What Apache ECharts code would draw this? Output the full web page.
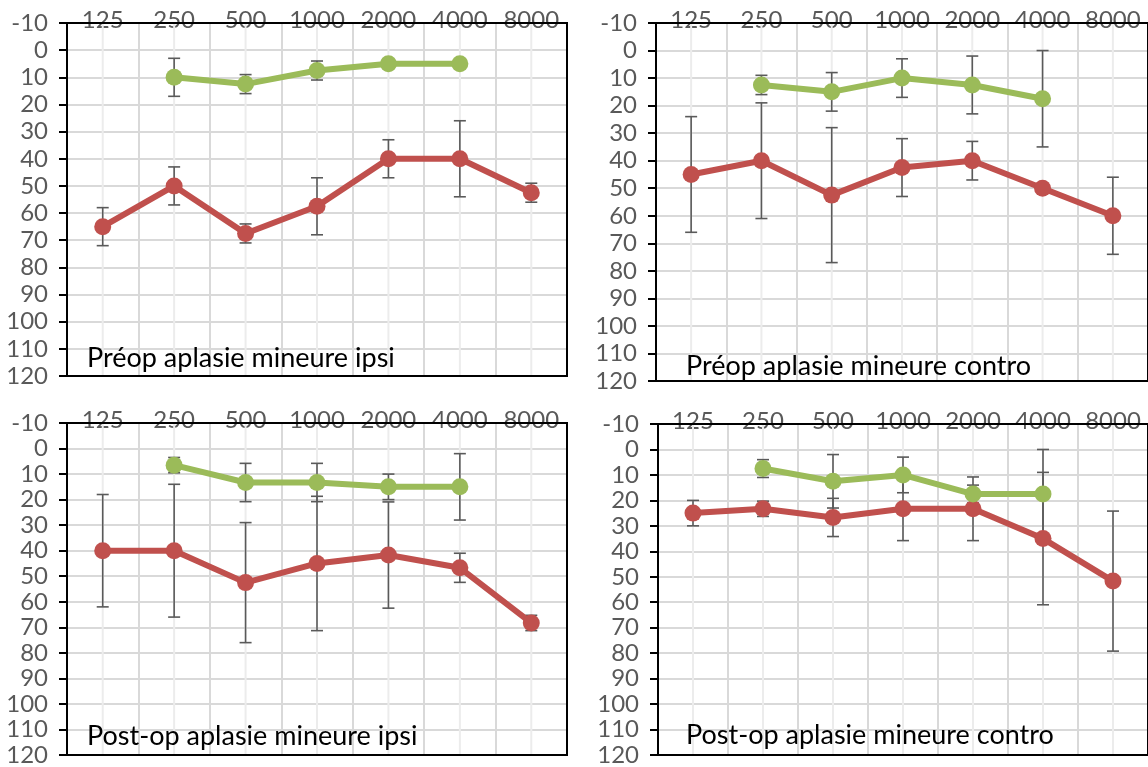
<!DOCTYPE html>
<html>
<head>
<meta charset="utf-8">
<script src="https://cdn.jsdelivr.net/npm/echarts@6/dist/echarts.min.js"></script>
<style>
  html, body { margin: 0; padding: 0; background: #ffffff; }
  #chart { width: 1148px; height: 767px; }
</style>
</head>
<body>
<div id="chart"></div>
<script>
// Audiogram frequencies (Hz), shown along the top of each panel
const freqs = ['125', '250', '500', '1000', '2000', '4000', '8000'];

// Hearing level scale (dB), drawn downwards
const dbMin = -10;
const dbMax = 120;
const dbStep = 10;

// Panel titles
const panelTitles = [
  'Préop aplasie mineure ipsi',
  'Préop aplasie mineure contro',
  'Post-op aplasie mineure ipsi',
  'Post-op aplasie mineure contro'
];

// Red curves: mean thresholds and their error half-widths
const preIpsiRed      = [65, 50, 67.5, 57.5, 40, 40, 52.5];
const preIpsiRedErr   = [7, 7, 3.5, 10.5, 7, 14, 3.5];
const preContraRed    = [45, 40, 52.5, 42.5, 40, 50, 60];
const preContraRedErr = [21, 21, 24.5, 10.5, 7, 0, 14];
const postIpsiRed     = [40, 40, 52.5, 45, 41.7, 46.7, 68.3];
const postIpsiRedErr  = [22, 26, 23.5, 26.3, 20.8, 5.7, 3];
const postContraRed    = [25, 23.3, 26.7, 23.3, 23.3, 35, 51.7];
const postContraRedErr = [5, 3, 7.5, 12.5, 12.5, 26, 27.5];

// Green curves: mean thresholds and their error half-widths
const preIpsiGreen      = [null, 10, 12.5, 7.5, 5, 5, null];
const preIpsiGreenErr   = [null, 7, 3.5, 3.5, 0, 0, null];
const preContraGreen    = [null, 12.5, 15, 10, 12.5, 17.5, null];
const preContraGreenErr = [null, 3.5, 7, 7, 10.5, 17.5, null];
const postIpsiGreen     = [null, 6.5, 13.3, 13.3, 15, 15, null];
const postIpsiGreenErr  = [null, 3, 7.5, 7.5, 5, 13, null];
const postContraGreen    = [null, 7.5, 12.5, 10, 17.5, 17.5, null];
const postContraGreenErr = [null, 3.5, 10.5, 7, 3.5, 17.5, null];

const RED = '#C0504D';
const GREEN = '#9BBB59';
const AXIS_TEXT = '#595959';
const FONT = 'Lato';

const panels = [
  { red: preIpsiRed, redErr: preIpsiRedErr, green: preIpsiGreen, greenErr: preIpsiGreenErr,
    grid: { left: 67, top: 23, width: 500, height: 353 }, titleX: 87, titleY: 358 },
  { red: preContraRed, redErr: preContraRedErr, green: preContraGreen, greenErr: preContraGreenErr,
    grid: { left: 656, top: 23, width: 497, height: 358 }, titleX: 686, titleY: 366 },
  { red: postIpsiRed, redErr: postIpsiRedErr, green: postIpsiGreen, greenErr: postIpsiGreenErr,
    grid: { left: 67, top: 423, width: 500, height: 336 }, titleX: 87, titleY: 736 },
  { red: postContraRed, redErr: postContraRedErr, green: postContraGreen, greenErr: postContraGreenErr,
    grid: { left: 658, top: 424, width: 495, height: 336 }, titleX: 686, titleY: 735 }
];

// [category index, lower bound, upper bound] for every point that has a spread
function errorData(means, errs) {
  const out = [];
  means.forEach((m, i) => {
    if (m == null || !errs[i]) return;
    out.push([i, m - errs[i], m + errs[i]]);
  });
  return out;
}

function renderErrorBar(params, api) {
  const x = api.value(0);
  const a = api.coord([x, api.value(1)]);
  const b = api.coord([x, api.value(2)]);
  const cap = 6;
  const style = { stroke: '#5a5a5a', lineWidth: 1.6 };
  return {
    type: 'group',
    children: [
      { type: 'line', shape: { x1: a[0], y1: a[1], x2: b[0], y2: b[1] }, style },
      { type: 'line', shape: { x1: a[0] - cap, y1: a[1], x2: a[0] + cap, y2: a[1] }, style },
      { type: 'line', shape: { x1: b[0] - cap, y1: b[1], x2: b[0] + cap, y2: b[1] }, style }
    ]
  };
}

// Light vertical guide through the centre of each frequency column
function renderCentreLine(params, api) {
  const x = api.value(0);
  const a = api.coord([x, dbMin]);
  const b = api.coord([x, dbMax]);
  return {
    type: 'line',
    shape: { x1: a[0], y1: a[1], x2: b[0], y2: b[1] },
    style: { stroke: '#ececec', lineWidth: 2 }
  };
}

const grids = [], xAxes = [], yAxes = [], series = [], titles = [];

panels.forEach((p, k) => {
  grids.push(Object.assign({
    show: true, z: 1, backgroundColor: 'transparent',
    borderColor: '#000000', borderWidth: 2
  }, p.grid));

  xAxes.push({
    gridIndex: k, type: 'category', data: freqs, position: 'top',
    boundaryGap: true,
    axisLine: { show: false },
    axisTick: { show: false },
    axisLabel: { color: AXIS_TEXT, fontFamily: FONT, fontSize: 24, margin: -9, interval: 0 },
    splitLine: { show: true, lineStyle: { color: '#d9d9d9', width: 2 } }
  });

  yAxes.push({
    gridIndex: k, type: 'value', inverse: true,
    min: dbMin, max: dbMax, interval: dbStep,
    axisLine: { show: false },
    axisTick: { show: true, inside: false, length: 8, lineStyle: { color: '#000000', width: 2 } },
    axisLabel: { color: AXIS_TEXT, fontFamily: FONT, fontSize: 24, margin: 19 },
    splitLine: { show: true, lineStyle: { color: '#d9d9d9', width: 2 } }
  });

  series.push({
    type: 'custom', xAxisIndex: k, yAxisIndex: k, z: 0.5, silent: true,
    renderItem: renderCentreLine,
    data: freqs.map((f, i) => [i])
  });

  [[p.red, p.redErr], [p.green, p.greenErr]].forEach(([m, e]) => {
    series.push({
      type: 'custom', xAxisIndex: k, yAxisIndex: k, z: 2, silent: true,
      renderItem: renderErrorBar,
      data: errorData(m, e)
    });
  });

  [[p.red, RED], [p.green, GREEN]].forEach(([m, c]) => {
    series.push({
      type: 'line', xAxisIndex: k, yAxisIndex: k, z: 3, silent: true,
      data: m.map(v => (v == null ? '-' : v)),
      symbol: 'circle', symbolSize: 17, showSymbol: true,
      connectNulls: false,
      itemStyle: { color: c },
      lineStyle: { color: c, width: 6 }
    });
  });

  titles.push({
    text: panelTitles[k],
    left: p.titleX,
    top: p.titleY - 16,
    padding: 0,
    textStyle: { color: '#000000', fontFamily: FONT, fontSize: 27, fontWeight: 'normal', lineHeight: 32 }
  });
});

const chart = echarts.init(document.getElementById('chart'), null, { renderer: 'canvas' });
chart.setOption({
  animation: false,
  backgroundColor: '#ffffff',
  title: titles,
  grid: grids,
  xAxis: xAxes,
  yAxis: yAxes,
  series: series
});
</script>
</body>
</html>
